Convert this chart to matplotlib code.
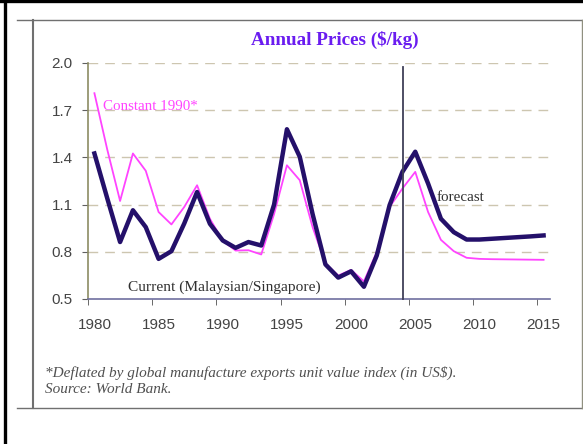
import matplotlib.pyplot as plt
from matplotlib.lines import Line2D

# 数据
years = list(range(1980, 2016))
current = [1.425, 1.14, 0.862, 1.064, 0.957, 0.755, 0.804, 0.98, 1.18, 0.978,
           0.872, 0.825, 0.862, 0.84, 1.10, 1.579, 1.404, 1.04, 0.72, 0.636,
           0.676, 0.578, 0.776, 1.096, 1.308, 1.436, 1.234, 1.01, 0.925, 0.878,
           0.878, 0.883, 0.888, 0.893, 0.898, 0.904]
constant = [1.808, 1.45, 1.123, 1.425, 1.315, 1.053, 0.974, 1.085, 1.223, 1.01,
            0.87, 0.808, 0.81, 0.783, 1.04, 1.35, 1.255, 0.957, 0.727, 0.649,
            0.685, 0.612, 0.798, 1.085, 1.202, 1.308, 1.053, 0.876, 0.804, 0.762,
            0.755, 0.753, 0.752, 0.751, 0.75, 0.749]
tick_years = [1980, 1985, 1990, 1995, 2000, 2005, 2010, 2015]
y_ticks = [0.5, 0.8, 1.1, 1.4, 1.7, 2.0]
forecast_start = 2004.05

fig = plt.figure(figsize=(5.83, 4.44), dpi=100)
fig.patch.set_facecolor('white')

# 外框线
W, H = 583, 444
def fline(x0, y0, x1, y1, color, lw):
    fig.add_artist(Line2D([x0 / W, x1 / W], [1 - y0 / H, 1 - y1 / H],
                          transform=fig.transFigure, color=color, lw=lw))

fline(0, 1.5, 583, 1.5, 'black', 2.4)
fline(4.5, 0, 4.5, 444, 'black', 2.4)
fline(17, 20, 583, 20, '#707070', 1.0)
fline(17, 408, 583, 408, '#707070', 1.0)
fline(33, 20, 33, 408, '#707070', 1.5)
fline(582, 20, 582, 408, '#909080', 1.0)

ax = fig.add_axes([88 / W, 1 - 299 / H, (550 - 88) / W, (299 - 63) / H])
ax.set_xlim(1979.5, 2015.5)
ax.set_ylim(0.5, 2.0)

# 网格线
for v in y_ticks[1:]:
    ax.axhline(v, color='#cdc6b0', lw=1.0, ls=(0, (7, 5)), zorder=0)

ax.plot(years, constant, color='#ff44ff', lw=1.3, zorder=3)
ax.plot(years, current, color='#24106a', lw=3.2, zorder=4)
ax.plot([forecast_start, forecast_start], [0.5, 1.974], color='#404058', lw=1.3,
        zorder=5, clip_on=False)

for s in ['top', 'right']:
    ax.spines[s].set_visible(False)
ax.spines['left'].set_color('#8c8c64')
ax.spines['bottom'].set_color('#7070a0')
ax.spines['left'].set_linewidth(1.2)
ax.spines['bottom'].set_linewidth(1.2)

ax.set_yticks(y_ticks)
ax.set_yticklabels([f'{v:.1f}' for v in y_ticks], fontfamily='Liberation Sans',
                   fontsize=11, color='#444444')
ax.tick_params(axis='y', length=4, color='#606060', pad=7)

ax.set_xticks(tick_years)
ax.set_xticklabels([str(y) for y in tick_years], fontfamily='Liberation Sans',
                   fontsize=11, color='#444444')
ax.tick_params(axis='x', which='major', length=0, pad=14)
ax.set_xticks([y - 0.5 for y in tick_years], minor=True)
ax.tick_params(axis='x', which='minor', length=4, color='#505050')

serif = 'Liberation Serif'
fig.text(335 / W, 1 - 40 / H, 'Annual Prices ($/kg)', ha='center', va='center',
         fontfamily=serif, fontweight='bold', fontsize=13.8, color='#6a1cf0')
fig.text(103 / W, 1 - 106 / H, 'Constant 1990*', ha='left', va='center',
         fontfamily=serif, fontsize=10.8, color='#ff44ff')
fig.text(128 / W, 1 - 287 / H, 'Current (Malaysian/Singapore)', ha='left', va='center',
         fontfamily=serif, fontsize=11.1, color='#303030')
fig.text(437 / W, 1 - 197 / H, 'forecast', ha='left', va='center',
         fontfamily=serif, fontsize=10.8, color='#303030')
fig.text(45 / W, 1 - 373 / H,
         '*Deflated by global manufacture exports unit value index (in US$).',
         ha='left', va='center', fontfamily=serif, fontstyle='italic',
         fontsize=11, color='#505050')
fig.text(45 / W, 1 - 389 / H, 'Source: World Bank.', ha='left', va='center',
         fontfamily=serif, fontstyle='italic', fontsize=11, color='#505050')

fig.savefig('out.png', dpi=100)
